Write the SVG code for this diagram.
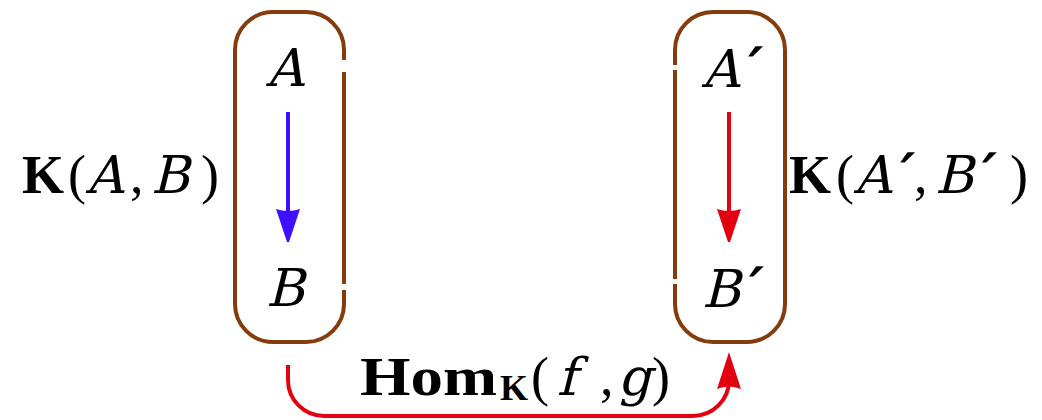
<svg xmlns="http://www.w3.org/2000/svg" width="1042" height="420" viewBox="0 0 1042 420">
<style>
.box{fill:none;stroke:#843c0c;stroke-width:4;stroke-linecap:butt}
.math{font-family:"Liberation Serif","Times New Roman",serif;font-size:54px;fill:#000}
.bf{font-weight:bold}
.mi{font-family:"DejaVu Serif","Liberation Serif",serif;font-size:52px;fill:#000}
.pr{font-weight:bold;font-size:56px}
.blue{stroke:#3f10ff;stroke-width:4;fill:none}
.red{stroke:#e3000f;stroke-width:4;fill:none}
</style>
<rect width="1042" height="420" fill="#fff"/>
<g id="homset-left">
<path class="box" d="M344,72 V284 M344,290 V304 A38,38 0 0 1 306,342 H273 A38,38 0 0 1 235,304 V50 A38,38 0 0 1 273,12 H306 A38,38 0 0 1 344,50 V60"/>
<text class="math" y="193"><tspan class="bf" x="22">K</tspan><tspan x="68">(</tspan><tspan x="130">,</tspan><tspan x="201">)</tspan></text>
<text class="mi" transform="translate(86,193) skewX(-14)">A</text>
<text class="mi" transform="translate(151,193) skewX(-14)">B</text>
</g>
<g id="node-A"><text class="mi" transform="translate(285,86) skewX(-14)" text-anchor="middle">A</text></g>
<g id="node-B"><text class="mi" transform="translate(285,306) skewX(-14)" text-anchor="middle">B</text></g>
<g id="homset-right">
<path class="box" d="M675,70 V279 M675,284 V304 A38,38 0 0 0 713,342 H747 A38,38 0 0 0 785,304 V50 A38,38 0 0 0 747,12 H713 A38,38 0 0 0 675,50 V65"/>
<text class="math" y="193"><tspan class="bf" x="789">K</tspan><tspan x="836">(</tspan><tspan x="914">,</tspan><tspan x="1010">)</tspan></text>
<text class="mi" transform="translate(854,193) skewX(-14)">A<tspan class="pr">′</tspan></text>
<text class="mi" transform="translate(935,193) skewX(-14)">B<tspan class="pr">′</tspan></text>
</g>
<g id="node-A2"><text class="mi" transform="translate(702,87) skewX(-14)">A<tspan class="pr">′</tspan></text></g>
<g id="node-B2"><text class="mi" transform="translate(702,307) skewX(-14)">B<tspan class="pr">′</tspan></text></g>
<g id="connectors">
<path class="blue" d="M288,112 V236"/>
<path fill="#3f10ff" d="M276,209 Q288,213 300,209 L289,242 L287,242 Z"/>
<path class="red" d="M729,112 V236"/>
<path fill="#e3000f" d="M717,209 Q729,213 741,209 L730,242 L728,242 Z"/>
<path class="red" d="M288,365 V380 A36,36 0 0 0 324,416 H693 A36,36 0 0 0 729,380 V372"/>
<path fill="#e3000f" d="M729,352 L741,389 Q729,384 717,389 Z"/>
<text class="math" y="395"><tspan class="bf" x="360" textLength="137" lengthAdjust="spacingAndGlyphs">Hom</tspan><tspan class="bf" x="500" y="400" font-size="36">K</tspan><tspan x="531" y="395">(</tspan><tspan x="600">,</tspan><tspan x="652">)</tspan></text>
<text class="mi" transform="translate(557,395) skewX(-14)" font-size="60">f</text>
<text class="mi" transform="translate(618,395) skewX(-14)">g</text>
</g>
</svg>
